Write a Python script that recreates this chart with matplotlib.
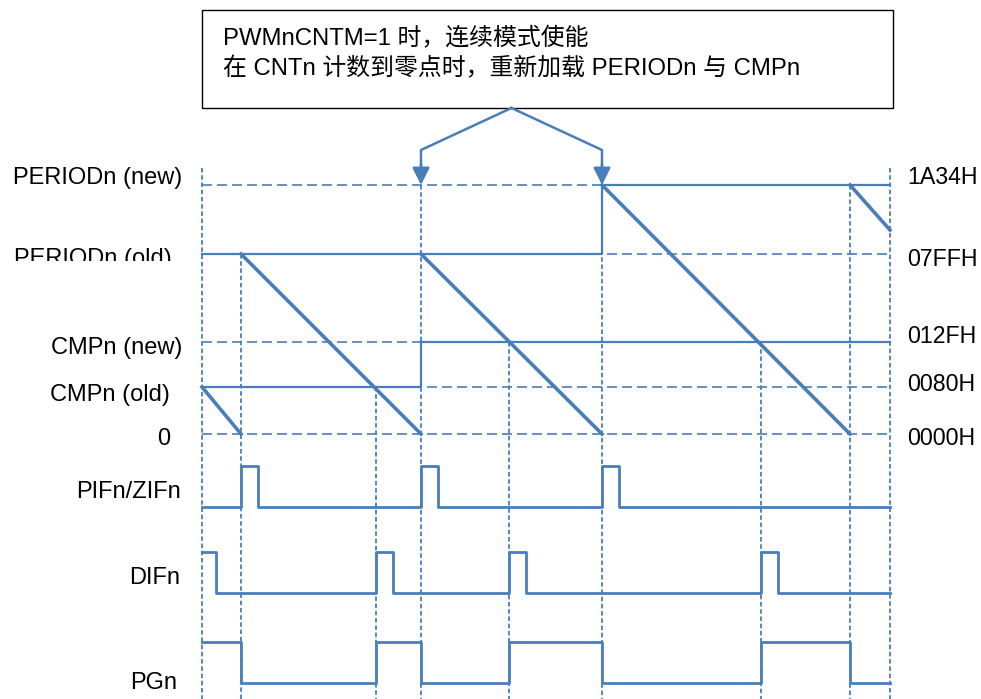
import numpy as np
import matplotlib.pyplot as plt
from matplotlib.patches import Rectangle

plt.rcParams['font.family'] = ['Liberation Sans', 'Noto Sans CJK SC']

BLUE = '#4a7ebb'

# 时间轴 (任意单位, 0 = 图左端)
t_end = 688
t_reload = [39, 219, 400, 648]      # CNTn 到零 -> 重新加载
t_match = [174, 307, 559]           # CNTn == CMPn

# 寄存器电平 (图中单位, 0 = 计数零点)
level_names = ['PERIODn (new)', 'PERIODn (old)', 'CMPn (new)', 'CMPn (old)', '0']
level_vals = [249, 180, 92, 47, 0]
level_hex = ['1A34H', '07FFH', '012FH', '0080H', '0000H']

# 计数器 CNTn, 每段 (起点, 终点)
cnt_t = [0, 39, 39, 219, 219, 400, 400, 648, 648, 688]
cnt_v = [47, 0, 180, 0, 180, 0, 249, 0, 249, 204]

# 寄存器内容
period_t = [0, 400, 400, 688]
period_v = [180, 180, 249, 249]
cmp_t = [0, 219, 219, 688]
cmp_v = [47, 47, 92, 92]

# 标志 / 输出
pif_t = [0, 39, 56, 219, 236, 400, 417, 688]
pif_v = [0, 1, 0, 1, 0, 1, 0, 0]
dif_t = [0, 14, 174, 191, 307, 324, 559, 576, 688]
dif_v = [1, 0, 1, 0, 1, 0, 1, 0, 0]
pg_t = [0, 39, 174, 219, 307, 400, 559, 648, 688]
pg_v = [1, 0, 1, 0, 1, 0, 1, 0, 0]

fig = plt.figure(figsize=(9.81, 6.99), dpi=100)
ax = fig.add_axes([0, 0, 1, 1])
ax.set_xlim(-202, 779)
ax.set_ylim(-265, 434)
ax.axis('off')

fs = 17
top = 266
bottom = -265

# 水平虚线
ax.hlines(level_vals, 0, t_end, colors=BLUE, linestyles=(0, (6, 3)), lw=1.2)

# 竖直虚线
guides = [(0, top)] + list(zip(t_reload, [180, 249, 249, 249])) \
    + list(zip(t_match, [47, 92, 92])) + [(t_end, top)]
for gt, gy in guides:
    ax.plot([gt, gt], [gy, bottom], color=BLUE, ls=(0, (2.5, 1.5)), lw=1.3)

# 寄存器
ax.plot(period_t, period_v, color=BLUE, lw=1.6)
ax.plot(cmp_t, cmp_v, color=BLUE, lw=1.6)

# 计数器锯齿
for i in range(0, len(cnt_t), 2):
    ax.plot(cnt_t[i:i + 2], cnt_v[i:i + 2], color=BLUE, lw=2.6)

# 信号
amp = 41
for st, sv, base in [(pif_t, pif_v, -73), (dif_t, dif_v, -159), (pg_t, pg_v, -249)]:
    ax.step(st, base + amp * np.array(sv), where='post', color=BLUE, lw=2)

# 左侧标签
left_lbl = [('PERIODn (new)', -20, 250), ('PERIODn (old)', -30, 169),
            ('CMPn (new)', -20, 80), ('CMPn (old)', -32, 33),
            ('0', -32, -11), ('PIFn/ZIFn', -21, -64),
            ('DIFn', -22, -150), ('PGn', -25, -255)]
for s, x, y in left_lbl:
    t = ax.text(x, y, s, ha='right', va='baseline', fontsize=fs)
    if s == 'PERIODn (old)':
        t.set_clip_path(Rectangle((-202, 173), 200, 100, transform=ax.transData))
        t.set_clip_on(True)

# 右侧标签
for s, y in zip(level_hex, [250, 168, 91, 43, -11]):
    ax.text(705, y, s, ha='left', va='baseline', fontsize=16.7)

# 说明框
ax.add_patch(Rectangle((0, 326), 691, 98, facecolor='white', edgecolor='black', lw=1))
ax.text(21, 389, 'PWMnCNTM=1 时，连续模式使能', ha='left', va='baseline', fontsize=17.2)
ax.text(21, 359, '在 CNTn 计数到零点时，重新加载 PERIODn 与 CMPn',
        ha='left', va='baseline', fontsize=17.2)

# 箭头
mid = (t_reload[1] + t_reload[2]) / 2
for tr in t_reload[1:3]:
    ax.plot([mid, tr, tr], [326, 284, 266], color=BLUE, lw=1.8)
    ax.annotate('', xy=(tr, 249), xytext=(tr, 270),
                arrowprops=dict(arrowstyle='-|>', color=BLUE, lw=1.8,
                                mutation_scale=26, shrinkA=0, shrinkB=0))

fig.savefig('out.png', dpi=100)
